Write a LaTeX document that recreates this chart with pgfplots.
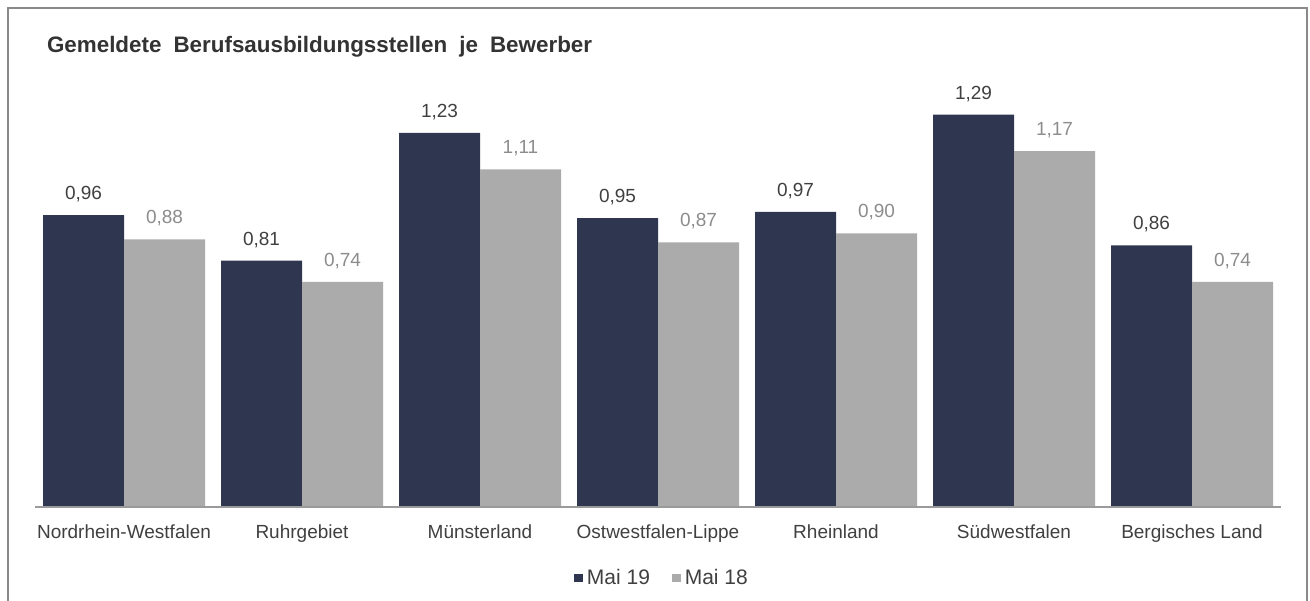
\documentclass[border=0pt]{standalone}
\usepackage{pgfplots}
\pgfplotsset{compat=1.18}
\usepackage{fontspec}
\setmainfont{Liberation Sans}
\definecolor{navy}{HTML}{2E3650}
\definecolor{lgray}{HTML}{ABABAB}
\definecolor{txt}{HTML}{404040}
\definecolor{gtxt}{HTML}{8C8C8C}
\definecolor{bordergray}{HTML}{8A8A8A}
\definecolor{axisgray}{HTML}{9A9A9A}
\definecolor{titlecol}{HTML}{333333}
\begin{document}
\begin{tikzpicture}[x=1pt,y=1pt]
\path[use as bounding box] (0,0) rectangle (655,300);
\draw[color=bordergray, line width=0.8pt] (4,-2) -- (4,296) -- (653.5,296) -- (653.5,-2);
\node[anchor=base west, font=\fontsize{11.2}{13}\selectfont\bfseries, text=titlecol, inner sep=0pt] at (23.3,273.5) {Gemeldete\hspace{6pt}Berufsausbildungsstellen\hspace{6pt}je\hspace{6pt}Bewerber};
\begin{axis}[
  at={(17.5pt,46.5pt)}, anchor=south west,
  scale only axis, width=623pt, height=220.5pt,
  xmin=-0.5, xmax=6.5, ymin=0, ymax=1.45,
  clip=false,
  ybar=0pt, bar width=40.5pt,
  axis line style={draw=none},
  ytick=\empty,
  xtick={0,1,2,3,4,5,6},
  xticklabels={Nordrhein-Westfalen,Ruhrgebiet,Münsterland,Ostwestfalen-Lippe,Rheinland,Südwestfalen,Bergisches Land},
  xtick style={draw=none},
  xticklabel style={anchor=base, yshift=-11.5pt, font=\fontsize{9.5}{11}\selectfont, text=txt},
  nodes near coords={\pgfmathprintnumber[use comma,fixed,fixed zerofill,precision=2,assume math mode=true]{\pgfplotspointmeta}},
  every node near coord/.append style={font=\fontsize{9.5}{11}\selectfont, yshift=3pt},
  legend style={at={(0.5,0)}, anchor=center, yshift=-35.5pt, xshift=2.5pt, draw=none, fill=none,
    font=\fontsize{10.5}{12}\selectfont, text=txt, legend columns=2,
    /tikz/every even column/.append style={column sep=9pt},
    legend cell align=left, inner sep=0pt},
  legend image code/.code={\fill[#1,draw=none] (0pt,-2.2pt) rectangle (4.4pt,2.2pt);},
]
\addplot[fill=navy, draw=none, every node near coord/.append style={text=txt}] coordinates {
  (0,0.96) (1,0.81) (2,1.23) (3,0.95) (4,0.97) (5,1.29) (6,0.86)};
\addplot[fill=lgray, draw=none, every node near coord/.append style={text=gtxt}] coordinates {
  (0,0.88) (1,0.74) (2,1.11) (3,0.87) (4,0.90) (5,1.17) (6,0.74)};
\legend{Mai 19, Mai 18}
\draw[axisgray, line width=0.6pt] (axis cs:-0.5,0) -- (axis cs:6.5,0);
\end{axis}
\end{tikzpicture}
\end{document}
